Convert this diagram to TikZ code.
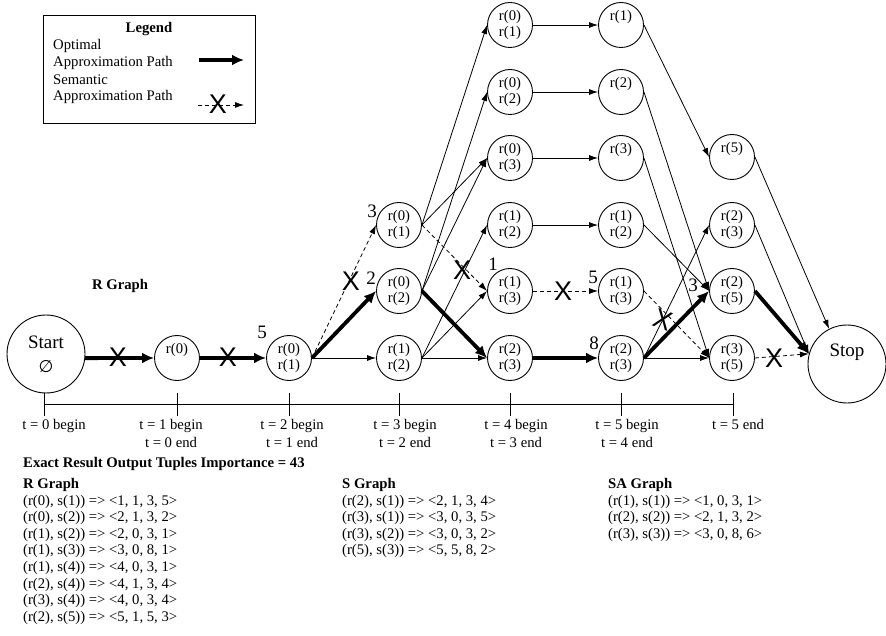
\documentclass[tikz,border=0pt]{standalone}
\usepackage{fontspec}
\setmainfont{Liberation Serif}
\newfontfamily\xfont{Liberation Sans}
\newfontfamily\djv{DejaVu Sans}
\usetikzlibrary{arrows.meta}
\begin{document}
\begin{tikzpicture}[x=1pt,y=-1pt,
  st/.style={circle,draw,line width=0.9pt,minimum size=45pt,inner sep=0pt,align=center,font=\fontsize{14.7}{16}\selectfont},
  big/.style={circle,draw,line width=0.9pt,minimum size=78pt,inner sep=0pt,align=center,font=\fontsize{19}{24}\selectfont},
  thinarr/.style={line width=0.8pt,-{Latex[length=9pt,width=6pt]}},
  thickarr/.style={line width=3.8pt,-{Latex[length=12pt,width=11pt]}},
  semarr/.style={line width=0.8pt,dash pattern=on 4pt off 3pt,-{Latex[length=9pt,width=6pt]}},
  xmark/.style={font=\xfont\fontsize{27}{27}\selectfont,inner sep=0pt},
  num/.style={font=\fontsize{19}{19}\selectfont,inner sep=0pt},
  txt/.style={font=\fontsize{14.7}{16.6}\selectfont,inner sep=0pt},
  tlab/.style={font=\fontsize{14.7}{18}\selectfont,inner sep=0pt,align=center},
]
\useasboundingbox (0,0) rectangle (886,636);

% legend
\draw[line width=0.9pt] (43,15) rectangle (255,123);
\node[txt,font=\bfseries\fontsize{14.7}{16}\selectfont] (leg) at (149,29) {Legend};
\node[txt,anchor=west] (l1) at (53,46) {Optimal};
\node[txt,anchor=west] (l2) at (53,63) {Approximation Path};
\node[txt,anchor=west] (l3) at (53,80) {Semantic};
\node[txt,anchor=west] (l4) at (53,97) {Approximation Path};
\coordinate (la) at (199,60);
\coordinate (lb) at (244,60);
\coordinate (lc) at (198,105);
\coordinate (ld) at (244,105);
\draw[thickarr] (la) -- (lb);
\draw[semarr] (lc) -- (ld);
\node[xmark] (lx) at (218,104) {X};

\node[txt,font=\bfseries\fontsize{14.7}{16}\selectfont] (rg) at (120,286) {R Graph};

% nodes
\node[big] (Start) at (46,354) {Start\\{\djv\fontsize{17}{24}\selectfont ∅}};
\node[big] (Stop) at (847,364) {Stop\\\phantom{Stop}};
\node[st] (r0) at (177,358) {r(0)\\\phantom{r(0)}};
\node[st] (c2a) at (289,358) {r(0)\\r(1)};
\node[st] (c3a) at (399,225) {r(0)\\r(1)};
\node[st] (c3b) at (399,291) {r(0)\\r(2)};
\node[st] (c3c) at (399,358) {r(1)\\r(2)};
\node[st] (c4a) at (510,25) {r(0)\\r(1)};
\node[st] (c4b) at (510,92) {r(0)\\r(2)};
\node[st] (c4c) at (510,158) {r(0)\\r(3)};
\node[st] (c4d) at (510,225) {r(1)\\r(2)};
\node[st] (c4e) at (510,291) {r(1)\\r(3)};
\node[st] (c4f) at (510,358) {r(2)\\r(3)};
\node[st] (c5a) at (621,25) {r(1)\\\phantom{r(1)}};
\node[st] (c5b) at (621,92) {r(2)\\\phantom{r(2)}};
\node[st] (c5c) at (621,158) {r(3)\\\phantom{r(3)}};
\node[st] (c5d) at (621,225) {r(1)\\r(2)};
\node[st] (c5e) at (621,291) {r(1)\\r(3)};
\node[st] (c5f) at (621,358) {r(2)\\r(3)};
\node[st] (c6a) at (732,157) {r(5)\\\phantom{r(5)}};
\node[st] (c6b) at (732,225) {r(2)\\r(3)};
\node[st] (c6c) at (732,291) {r(2)\\r(5)};
\node[st] (c6d) at (732,358) {r(3)\\r(5)};

% edges
\draw[thickarr] (Start.-6) -- (r0.west);
\draw[thickarr] (r0.east) -- (c2a.west);
\draw[semarr] (c2a.east) -- (c3a.west);
\draw[thickarr] (c2a.east) -- (c3b.west);
\draw[thinarr] (c2a.east) -- (c3c.west);

\draw[thinarr] (c3a.east) -- (c4a.west);
\draw[thinarr] (c3a.east) -- (c4c.west);
\draw[semarr] (c3a.east) -- (c4e.west);
\draw[thinarr] (c3b.east) -- (c4b.west);
\draw[thinarr] (c3b.east) -- (c4c.west);
\draw[thickarr] (c3b.east) -- (c4f.west);
\draw[thinarr] (c3c.east) -- (c4d.west);
\draw[thinarr] (c3c.east) -- (c4e.west);
\draw[thinarr] (c3c.east) -- (c4f.west);

\draw[thinarr] (c4a.east) -- (c5a.west);
\draw[thinarr] (c4b.east) -- (c5b.west);
\draw[thinarr] (c4c.east) -- (c5c.west);
\draw[thinarr] (c4d.east) -- (c5d.west);
\draw[semarr] (c4e.east) -- (c5e.west);
\draw[thickarr] (c4f.east) -- (c5f.west);

\draw[thinarr] (c5a.east) -- (c6a.west);
\draw[thinarr] (c5b.east) -- (c6c.west);
\draw[thinarr] (c5c.east) -- (c6d.west);
\draw[thinarr] (c5d.east) -- (c6c.west);
\draw[semarr] (c5e.east) -- (c6d.west);
\draw[thinarr] (c5f.east) -- (c6b.west);
\draw[thickarr] (c5f.east) -- (c6c.west);
\draw[thinarr] (c5f.east) -- (c6d.west);

\draw[thinarr] (c6a.east) -- (Stop.117);
\draw[thinarr] (c6b.east) -- (Stop.165);
\draw[thickarr] (c6c.east) -- (Stop.165);
\draw[semarr] (c6d.east) -- (Stop.165);

% X marks
\node[xmark] (x1) at (118,357) {X};
\node[xmark] (x2) at (228,357) {X};
\node[xmark] (x3) at (351,281) {X};
\node[xmark] (x4) at (462,270) {X};
\node[xmark] (x5) at (563,291) {X};
\node[xmark,rotate=-20] (x6) at (663,320) {X};
\node[xmark] (x7) at (774,358) {X};

% numbers
\node[num] (n1) at (262,332) {5};
\node[num] (n2) at (372,211) {3};
\node[num] (n3) at (371,278) {2};
\node[num] (n4) at (493,264) {1};
\node[num] (n5) at (593,277) {5};
\node[num] (n6) at (594,343) {8};
\node[num] (n7) at (693,285) {3};

% timeline
\draw[line width=0.8pt] (44,404) -- (733,404);
\foreach \tx in {44,177,289,399,510,621,733} \draw[line width=0.8pt] (\tx,393) -- (\tx,416);
\node[tlab,anchor=north] (t0) at (54,419) {t = 0 begin};
\node[tlab,anchor=north] (t1) at (171,419) {t = 1 begin\\t = 0 end};
\node[tlab,anchor=north] (t2) at (292,419) {t = 2 begin\\t = 1 end};
\node[tlab,anchor=north] (t3) at (405,419) {t = 3 begin\\t = 2 end};
\node[tlab,anchor=north] (t4) at (516,419) {t = 4 begin\\t = 3 end};
\node[tlab,anchor=north] (t5) at (627,419) {t = 5 begin\\t = 4 end};
\node[tlab,anchor=north] (t6) at (738,419) {t = 5 end};

% bottom lists
\node[txt,anchor=west,font=\bfseries\fontsize{14.7}{16}\selectfont] (ex) at (23,464) {Exact Result Output Tuples Importance = 43};
\node[txt,anchor=north west,align=left] (rl) at (23,478) {\textbf{R Graph}\\(r(0), s(1)) => <1, 1, 3, 5>\\(r(0), s(2)) => <2, 1, 3, 2>\\(r(1), s(2)) => <2, 0, 3, 1>\\(r(1), s(3)) => <3, 0, 8, 1>\\(r(1), s(4)) => <4, 0, 3, 1>\\(r(2), s(4)) => <4, 1, 3, 4>\\(r(3), s(4)) => <4, 0, 3, 4>\\(r(2), s(5)) => <5, 1, 5, 3>};
\node[txt,anchor=north west,align=left] (sl) at (342,478) {\textbf{S Graph}\\(r(2), s(1)) => <2, 1, 3, 4>\\(r(3), s(1)) => <3, 0, 3, 5>\\(r(3), s(2)) => <3, 0, 3, 2>\\(r(5), s(3)) => <5, 5, 8, 2>};
\node[txt,anchor=north west,align=left] (sal) at (608,478) {\textbf{SA Graph}\\(r(1), s(1)) => <1, 0, 3, 1>\\(r(2), s(2)) => <2, 1, 3, 2>\\(r(3), s(3)) => <3, 0, 8, 6>};
\end{tikzpicture}
\end{document}
